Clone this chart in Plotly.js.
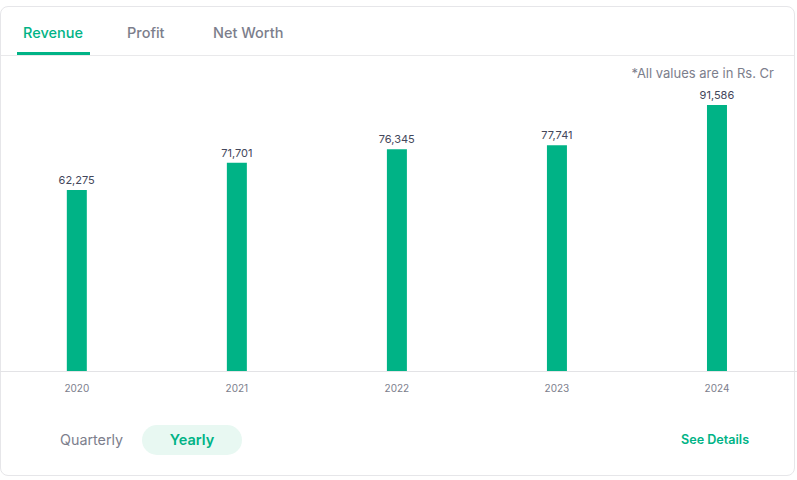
<!DOCTYPE html>
<html>
<head>
<meta charset="utf-8">
<script src="https://cdn.plot.ly/plotly-3.0.1.min.js"></script>
<style>
  html, body { margin:0; padding:0; background:#fff; font-family: Inter, "Noto Sans", sans-serif; }
  #wrap { position:relative; width:797px; height:480px; overflow:hidden; }
  #card { position:absolute; left:0px; top:6px; width:795px; height:470px; border:1px solid #e6e6e9; border-radius:8px; box-sizing:border-box; }
  #chart { position:absolute; left:0; top:0; width:797px; height:480px; }
  .t { position:absolute; white-space:nowrap; line-height:1; }
</style>
</head>
<body>
<div id="wrap">
  <div id="card"></div>
  <div id="chart"></div>
  <div class="t" style="left:23px;top:26px;font-size:14.5px;font-weight:500;color:#00b386;">Revenue</div>
  <div class="t" style="left:127px;top:26px;font-size:14.5px;font-weight:500;color:#7c7e8c;">Profit</div>
  <div class="t" style="left:213px;top:26px;font-size:14.5px;font-weight:500;color:#7c7e8c;">Net Worth</div>
  <div style="position:absolute;left:17px;top:52px;width:73px;height:3px;background:#00b386;"></div>
  <div style="position:absolute;left:1px;top:55px;width:793px;height:1px;background:#e9e9eb;"></div>
  <div class="t" style="right:23px;top:67px;font-size:13px;color:#7c7e8c;">*All values are in Rs. Cr</div>
  <div class="t" style="left:60px;top:433px;font-size:14.3px;color:#7c7e8c;">Quarterly</div>
  <div style="position:absolute;left:142px;top:425px;width:100px;height:30px;border-radius:15px;background:#e8f8f2;"></div>
  <div class="t" style="left:142px;top:433px;width:100px;text-align:center;font-size:14.5px;font-weight:600;color:#00b386;">Yearly</div>
  <div class="t" style="left:681px;top:434px;font-size:12.6px;font-weight:600;color:#00b386;">See Details</div>
</div>
<script>
const years = ["2020", "2021", "2022", "2023", "2024"];
const revenue = [62275, 71701, 76345, 77741, 91586];
const labels = ["62,275", "71,701", "76,345", "77,741", "91,586"];

const trace = {
  type: "bar",
  x: years,
  y: revenue,
  text: labels,
  textposition: "outside",
  constraintext: "none",
  cliponaxis: false,
  textfont: { family: "Inter, sans-serif", size: 11, color: "#44475b" },
  marker: { color: "#00b386" },
  width: 0.125,
  hoverinfo: "none"
};

const layout = {
  width: 797,
  height: 480,
  margin: { l: 0, r: 0, t: 70, b: 109 },
  paper_bgcolor: "rgba(0,0,0,0)",
  plot_bgcolor: "rgba(0,0,0,0)",
  showlegend: false,
  xaxis: {
    type: "category",
    range: [-0.48, 4.5],
    showgrid: false,
    zeroline: false,
    showline: true,
    linecolor: "#e3e3e6",
    linewidth: 1,
    ticks: "outside",
    ticklen: 8,
    tickcolor: "rgba(0,0,0,0)",
    tickfont: { family: "Inter, sans-serif", size: 10, color: "#7c7e8c" },
    fixedrange: true
  },
  yaxis: {
    range: [0, 103600],
    visible: false,
    showgrid: false,
    zeroline: false,
    fixedrange: true
  }
};

Plotly.newPlot("chart", [trace], layout, { displayModeBar: false, staticPlot: true });
</script>
</body>
</html>
